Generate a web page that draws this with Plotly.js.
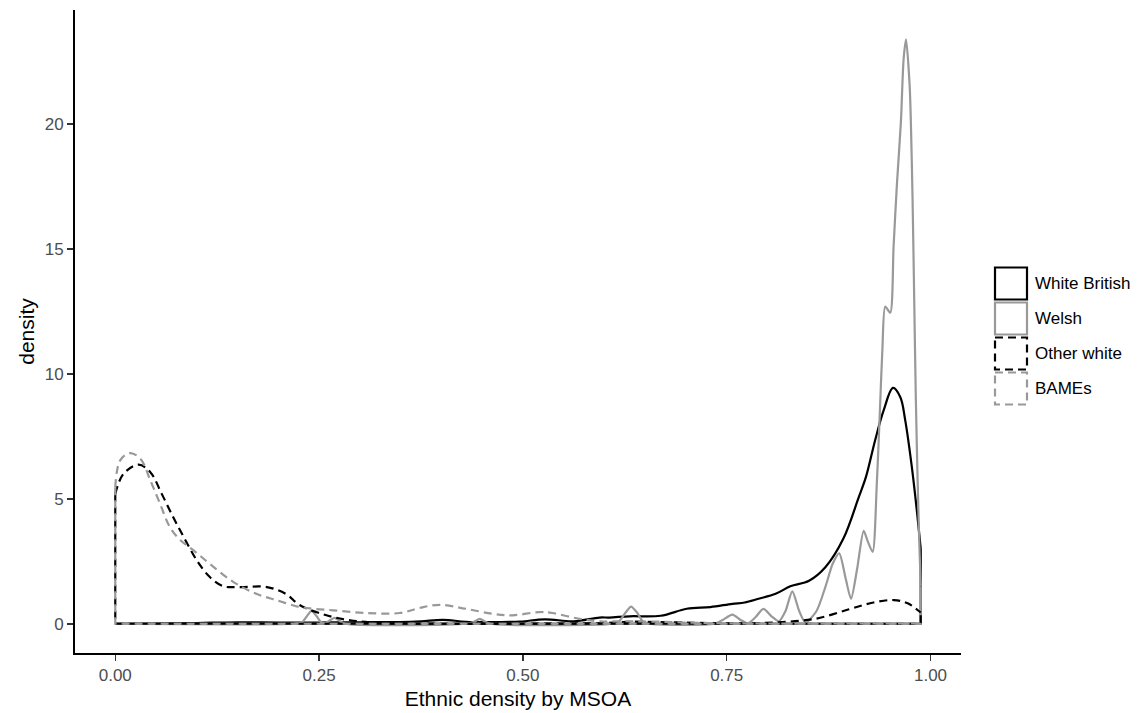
<!DOCTYPE html>
<html>
<head>
<meta charset="utf-8">
<script src="https://cdn.plot.ly/plotly-3.0.1.min.js"></script>
<style>html,body{margin:0;padding:0;background:#fff;}#chart{width:1142px;height:713px;}</style>
</head>
<body>
<div id="chart"></div>
<script>
// ---- data ----
const seriesNames = ["White British", "Welsh", "Other white", "BAMEs"];

const xWhiteBritish = [0, 0.05, 0.10, 0.15, 0.20, 0.25, 0.30, 0.349, 0.375, 0.402, 0.430, 0.471, 0.497, 0.527, 0.562, 0.594, 0.606, 0.631, 0.669, 0.701, 0.730, 0.757, 0.772, 0.789, 0.810, 0.828, 0.851, 0.871, 0.893, 0.912, 0.921, 0.932, 0.9425, 0.954, 0.963, 0.969, 0.977, 0.983, 0.988];
const yWhiteBritish = [0, 0.005, 0.03, 0.06, 0.05, 0.05, 0.06, 0.07, 0.1, 0.16, 0.08, 0.07, 0.09, 0.18, 0.1, 0.25, 0.25, 0.3, 0.32, 0.6, 0.67, 0.8, 0.85, 1.0, 1.2, 1.5, 1.72, 2.26, 3.4, 5.07, 5.9, 7.34, 8.54, 9.44, 9.07, 8.14, 6.3, 4.6, 3.0];

const xWelsh = [0, 0.22, 0.229, 0.235, 0.2407, 0.247, 0.253, 0.258, 0.264, 0.269, 0.275, 0.282, 0.43, 0.44, 0.447, 0.454, 0.46, 0.61, 0.618, 0.626, 0.6327, 0.64, 0.647, 0.655, 0.735, 0.745, 0.757, 0.767, 0.776, 0.785, 0.795, 0.805, 0.814, 0.822, 0.8305, 0.839, 0.8466, 0.86, 0.871, 0.88, 0.888, 0.896, 0.9025, 0.91, 0.918, 0.923, 0.929, 0.934, 0.938, 0.941, 0.9445, 0.9506, 0.9547, 0.9588, 0.9637, 0.967, 0.970, 0.9745, 0.9759, 0.978, 0.980, 0.982, 0.984, 0.986, 0.988];
const yWelsh = [0, 0, 0.05, 0.3, 0.52, 0.3, 0.05, 0.03, 0.15, 0.24, 0.12, 0, 0, 0.08, 0.2, 0.08, 0, 0, 0.1, 0.45, 0.69, 0.45, 0.1, 0, 0, 0.15, 0.37, 0.15, 0.02, 0.25, 0.6, 0.3, 0.1, 0.5, 1.3, 0.5, 0.05, 0.5, 1.47, 2.4, 2.82, 1.8, 1.0, 2.2, 3.72, 3.3, 2.88, 5.5, 8.6, 11, 12.7, 12.45, 15.1, 17.6, 20.1, 22.6, 23.4, 21.5, 20.1, 17, 13, 9, 6, 3.5, 1.5];

const xOtherWhite = [0, 0.01, 0.0286, 0.043, 0.057, 0.071, 0.084, 0.100, 0.116, 0.133, 0.153, 0.186, 0.210, 0.226, 0.259, 0.288, 0.320, 0.36, 0.45, 0.55, 0.60, 0.63, 0.66, 0.70, 0.74, 0.78, 0.818, 0.859, 0.90, 0.93, 0.955, 0.972, 0.988];
const yOtherWhite = [5.2, 6.0, 6.37, 6.07, 5.2, 4.27, 3.47, 2.54, 1.87, 1.50, 1.47, 1.47, 1.18, 0.75, 0.34, 0.14, 0.04, 0.01, 0.0, 0.01, 0.03, 0.08, 0.07, 0.05, 0.02, 0.02, 0.07, 0.2, 0.58, 0.85, 0.95, 0.82, 0.45];

const xBAMEs = [0, 0.006, 0.018, 0.031, 0.043, 0.055, 0.067, 0.080, 0.096, 0.116, 0.145, 0.173, 0.198, 0.226, 0.243, 0.267, 0.308, 0.349, 0.373, 0.398, 0.430, 0.463, 0.4875, 0.520, 0.536, 0.569, 0.594, 0.63, 0.67, 0.71, 0.75, 0.80, 0.88, 0.95, 0.988];
const yBAMEs = [5.47, 6.54, 6.83, 6.6, 5.74, 4.8, 3.87, 3.34, 2.94, 2.4, 1.67, 1.2, 0.94, 0.67, 0.6, 0.54, 0.43, 0.43, 0.63, 0.76, 0.6, 0.4, 0.34, 0.47, 0.43, 0.2, 0.1, 0.1, 0.08, 0.04, 0.02, 0.01, 0.01, 0.01, 0.01];

const xTickVals = [0, 0.25, 0.5, 0.75, 1.0];
const xTickText = ["0.00", "0.25", "0.50", "0.75", "1.00"];
const yTickVals = [0, 5, 10, 15, 20];
const yTickText = ["0", "5", "10", "15", "20"];

// ---- styles ----
const DASH = "8px,5px";
const LW = 2.2;
const styles = [
  {color: "#000000", dash: "solid", smoothing: 1.0},
  {color: "#999999", dash: "solid", smoothing: 0.7},
  {color: "#000000", dash: DASH, smoothing: 1.0},
  {color: "#999999", dash: DASH, smoothing: 1.0}
];
const seriesX = [xWhiteBritish, xWelsh, xOtherWhite, xBAMEs];
const seriesY = [yWhiteBritish, yWelsh, yOtherWhite, yBAMEs];

const traces = [];
seriesNames.forEach((name, i) => {
  const xs = seriesX[i], ys = seriesY[i], st = styles[i];
  const n = xs.length - 1;
  // polygon sides + baseline (as geom_density draws them)
  traces.push({
    type: "scatter", mode: "lines", hoverinfo: "skip", showlegend: false,
    x: [xs[0], xs[0], xs[n], xs[n]], y: [ys[0], 0, 0, ys[n]],
    line: {color: st.color, width: LW, dash: st.dash}
  });
  // density curve
  traces.push({
    type: "scatter", mode: "lines", name: name, showlegend: false,
    x: xs, y: ys,
    line: {color: st.color, width: LW, dash: st.dash, shape: "spline", smoothing: st.smoothing}
  });
});

// ---- layout ----
const W = 1142, H = 713;
const M = {l: 75, r: 181, t: 10, b: 60};
const PW = W - M.l - M.r, PH = H - M.t - M.b;
const px2x = p => (p - M.l) / PW;
const py2y = p => 1 - (p - M.t) / PH;

const shapes = [], annotations = [];
const legendTop = 266, keyH = 35, keyL = 995, keyR = 1027;
seriesNames.forEach((name, i) => {
  const st = styles[i];
  const cy = legendTop + keyH * (i + 0.5);
  shapes.push({
    type: "rect", xref: "paper", yref: "paper",
    x0: px2x(keyL), x1: px2x(keyR), y0: py2y(cy - 16), y1: py2y(cy + 16),
    line: {color: st.color, width: LW, dash: st.dash}, fillcolor: "rgba(0,0,0,0)"
  });
  annotations.push({
    xref: "paper", yref: "paper", x: px2x(1033), y: py2y(cy),
    xanchor: "left", yanchor: "middle", showarrow: false, text: name,
    font: {family: "Liberation Sans, Arial, sans-serif", size: 17, color: "#000000"}
  });
});

const layout = {
  width: W, height: H,
  margin: M,
  paper_bgcolor: "#ffffff", plot_bgcolor: "#ffffff",
  showlegend: false,
  font: {family: "Liberation Sans, Arial, sans-serif"},
  xaxis: {
    range: [-0.0494, 1.0374], autorange: false,
    tickvals: xTickVals, ticktext: xTickText,
    showgrid: false, zeroline: false,
    showline: true, linecolor: "#000000", linewidth: 2,
    ticks: "outside", ticklen: 6, tickwidth: 1.5, tickcolor: "#333333",
    tickfont: {size: 17, color: "#4D4D4D"},
    title: {text: "Ethnic density by MSOA", font: {size: 21, color: "#000000"}, standoff: 7}
  },
  yaxis: {
    range: [-1.17, 24.57], autorange: false,
    tickvals: yTickVals, ticktext: yTickText,
    showgrid: false, zeroline: false,
    showline: true, linecolor: "#000000", linewidth: 2,
    ticks: "outside", ticklen: 6, tickwidth: 1.5, tickcolor: "#333333",
    tickfont: {size: 17, color: "#4D4D4D"},
    title: {text: "density", font: {size: 21, color: "#000000"}, standoff: 4}
  },
  shapes: shapes,
  annotations: annotations
};

Plotly.newPlot("chart", traces, layout, {staticPlot: true, displayModeBar: false});
</script>
</body>
</html>
